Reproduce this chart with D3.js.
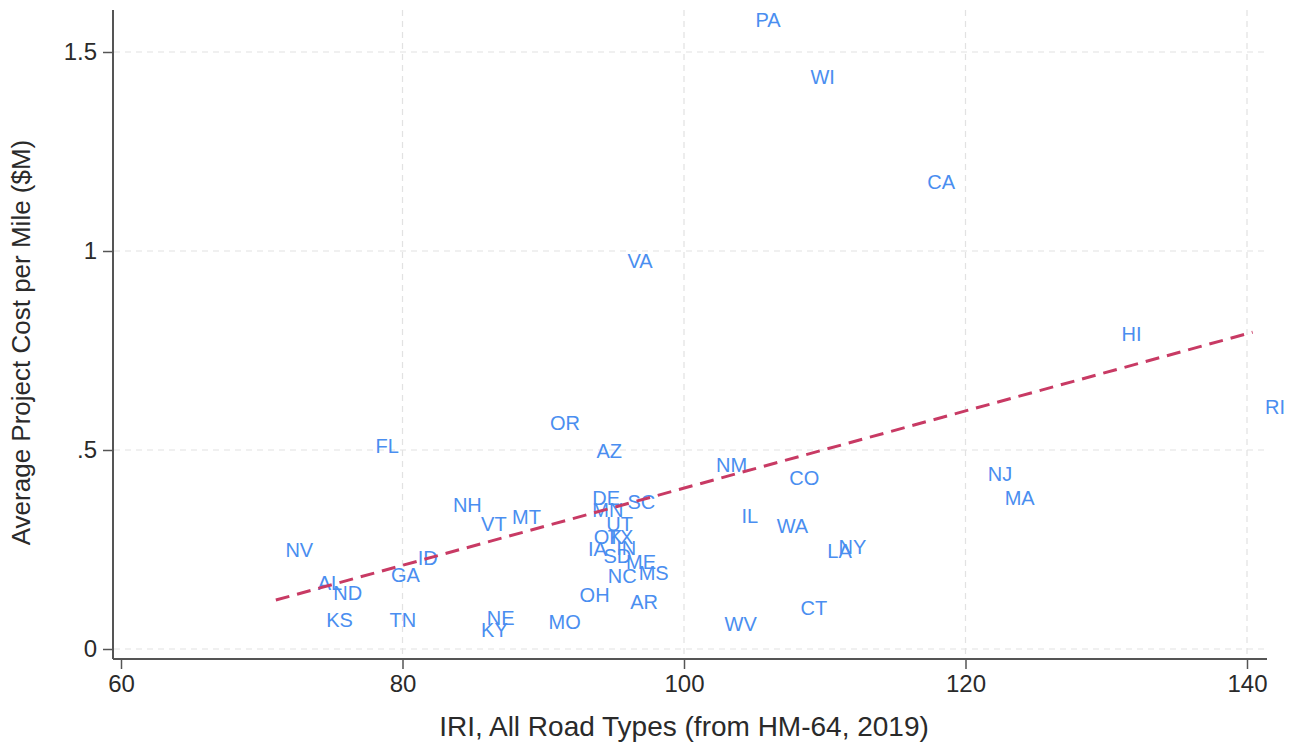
<!DOCTYPE html>
<html>
<head>
<meta charset="utf-8">
<script src="https://cdn.jsdelivr.net/npm/d3@7"></script>
<style>
  html, body { margin: 0; padding: 0; background: #fff; }
  svg { display: block; font-family: "Liberation Sans", Arial, Helvetica, sans-serif; }
</style>
</head>
<body>
<svg id="chart" width="1296" height="742"></svg>
<script>
// ---- data ----
const states = ["PA","WI","CA","VA","HI","RI","OR","FL","AZ","NM","CO","NJ","MA","NH","VT","MT","DE","SC","MN","UT","IL","WA","NY","LA","NV","ID","GA","AL","ND","KS","TN","NE","KY","MO","OH","AR","WV","CT","OK","TX","IA","IN","SD","ME","NC","MS"];
const iri = [104.3,108.2,116.5,95.2,130.3,140.5,89.7,77.3,93.0,101.5,106.7,120.8,122.0,82.8,84.8,87.0,92.7,95.2,92.7,93.7,103.3,105.8,110.2,109.4,70.9,80.3,78.4,73.2,74.3,73.8,78.3,85.2,84.8,89.6,91.8,95.4,102.1,107.5,92.8,93.8,92.4,94.4,93.5,95.1,93.8,96.0];
const costPerMile = [1.580,1.437,1.173,0.975,0.791,0.608,0.568,0.510,0.497,0.462,0.430,0.440,0.379,0.362,0.314,0.332,0.379,0.369,0.349,0.314,0.334,0.309,0.256,0.246,0.249,0.229,0.186,0.166,0.141,0.073,0.073,0.078,0.048,0.068,0.136,0.118,0.063,0.103,0.281,0.281,0.251,0.254,0.234,0.219,0.183,0.191];
const fitX = [71.0, 140.4];
const fitY = [0.123, 0.796];
const xTicks = [60, 80, 100, 120, 140];
const yTicks = [0, 0.5, 1, 1.5];
const yTickLabels = ["0", ".5", "1", "1.5"];
const xTitle = "IRI, All Road Types (from HM-64, 2019)";
const yTitle = "Average Project Cost per Mile ($M)";

// ---- layout ----
const svg = d3.select("#chart");
const plotLeft = 113, plotRight = 1267, plotTop = 10, plotBottom = 659;
const x = d3.scaleLinear().domain([60, 140]).range([121, 1247]);
const y = d3.scaleLinear().domain([0, 1.5]).range([649, 52]);

const labelColor = "#4a8ef0";
const axisColor = "#555";
const textColor = "#2a2a2a";

// gridlines
const grid = svg.append("g");
grid.selectAll("line.h").data(yTicks).enter().append("line")
  .attr("x1", plotLeft + 1).attr("x2", plotRight)
  .attr("y1", d => y(d)).attr("y2", d => y(d))
  .attr("stroke", "#e2e2e2").attr("stroke-width", 1.2).attr("stroke-dasharray", "6,5");
grid.selectAll("line.v").data(xTicks.filter(d => d > 60)).enter().append("line")
  .attr("y1", plotTop).attr("y2", plotBottom - 1)
  .attr("x1", d => x(d)).attr("x2", d => x(d))
  .attr("stroke", "#e2e2e2").attr("stroke-width", 1.2).attr("stroke-dasharray", "6,5");

// axes
const xAxis = d3.axisBottom(x).tickValues(xTicks).tickSize(10).tickPadding(6).tickFormat(d3.format("d"));
const gx = svg.append("g").attr("transform", `translate(0,${plotBottom})`).call(xAxis);
gx.select(".domain").remove();
gx.append("line").attr("x1", plotLeft).attr("x2", plotRight).attr("y1", 0).attr("y2", 0)
  .attr("stroke", axisColor).attr("stroke-width", 2);
gx.selectAll(".tick line").attr("stroke", axisColor).attr("stroke-width", 1.5);
gx.selectAll(".tick text").attr("fill", textColor).attr("font-size", 24).attr("font-family", "Liberation Sans, Arial, sans-serif");

const yAxis = d3.axisLeft(y).tickValues(yTicks).tickSize(10).tickPadding(6)
  .tickFormat((d, i) => yTickLabels[i]);
const gy = svg.append("g").attr("transform", `translate(${plotLeft},0)`).call(yAxis);
gy.select(".domain").remove();
gy.append("line").attr("x1", 0).attr("x2", 0).attr("y1", plotTop).attr("y2", plotBottom)
  .attr("stroke", axisColor).attr("stroke-width", 2);
gy.selectAll(".tick line").attr("stroke", axisColor).attr("stroke-width", 1.5);
gy.selectAll(".tick text").attr("fill", textColor).attr("font-size", 24).attr("font-family", "Liberation Sans, Arial, sans-serif");

// axis titles
svg.append("text").attr("x", 684).attr("y", 736)
  .attr("text-anchor", "middle").attr("font-size", 28).attr("fill", textColor).text(xTitle);
svg.append("text").attr("transform", `translate(30,${(plotTop + plotBottom) / 2 + 8}) rotate(-90)`)
  .attr("text-anchor", "middle").attr("font-size", 26).attr("fill", textColor).text(yTitle);

// marker labels (position 3, no marker symbol)
const pts = states.map((s, i) => ({ s, x: iri[i], y: costPerMile[i] }));
svg.append("g").selectAll("text").data(pts).enter().append("text")
  .attr("x", d => x(d.x) + 11).attr("y", d => y(d.y))
  .attr("dy", "0.35em")
  .attr("font-size", 20).attr("fill", labelColor)
  .text(d => d.s);

// fitted line
const fit = fitX.map((v, i) => [v, fitY[i]]);
svg.append("path").datum(fit)
  .attr("d", d3.line().x(d => x(d[0])).y(d => y(d[1])))
  .attr("fill", "none").attr("stroke", "#c83a64").attr("stroke-width", 3)
  .attr("stroke-dasharray", "14,8");
</script>
</body>
</html>
